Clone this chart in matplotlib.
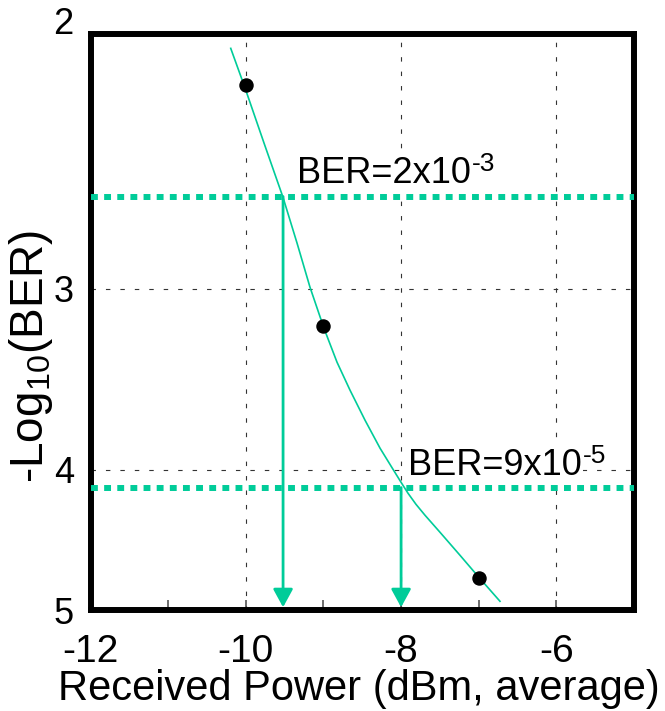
import matplotlib
matplotlib.use('Agg')
import matplotlib.pyplot as plt
from matplotlib.ticker import NullLocator, FixedLocator

plt.rcParams['font.family'] = ['Liberation Sans', 'DejaVu Sans']
plt.rcParams['mathtext.fontset'] = 'custom'
plt.rcParams['mathtext.rm'] = 'Liberation Sans'
plt.rcParams['mathtext.it'] = 'Liberation Sans'
plt.rcParams['mathtext.default'] = 'regular'

# measured points
pt_x = [-10, -9, -7]
pt_y = [2.17, 3.18, 4.75]

# fitted curve
curve_x = [-10.194, -10.010, -9.765, -9.521, -9.340, -9.173, -8.993, -8.825,
           -8.658, -8.464, -8.271, -8.104, -8.001, -7.911, -7.808, -7.692,
           -7.499, -7.241, -7.009, -6.726]
curve_y = [2.046, 2.179, 2.379, 2.593, 2.789, 2.992, 3.194, 3.371,
           3.524, 3.697, 3.865, 3.997, 4.080, 4.152, 4.226, 4.300,
           4.418, 4.583, 4.739, 4.931]

# BER threshold lines and where they cross the curve
ber_levels = [2.59, 4.115]
ber_power = [-9.52, -8.0]
ber_base = ['BER=2x10', 'BER=9x10']
ber_exp = ['-3', '-5']
label_pos = [(-9.34, 2.535), (-7.91, 4.032)]

xticks = [-12, -10, -8, -6]
xminor = [-11, -9, -7]
yticks = [2, 3, 4, 5]

green = '#00cc99'

fig = plt.figure(figsize=(6.65, 7.11), dpi=100)
ax = fig.add_axes([0.1361, 0.1420, 0.8173, 0.8101])

ax.set_yscale('log')
ax.set_xlim(-12, -5)
ax.set_ylim(5, 2)

ax.set_xticks(xticks)
ax.set_xticklabels([str(v) for v in xticks])
ax.xaxis.set_minor_locator(FixedLocator(xminor))
ax.yaxis.set_major_locator(FixedLocator(yticks))
ax.yaxis.set_minor_locator(NullLocator())
ax.set_yticklabels([str(v) for v in yticks])

ax.tick_params(axis='x', which='both', direction='in', length=7, width=1.2,
               color='#555555', labelsize=28, pad=17, top=False)
ax.tick_params(axis='y', which='both', length=0, labelsize=26, pad=12)

for s in ax.spines.values():
    s.set_linewidth(4.3)

ax.grid(True, which='major', color='#333333', lw=0.8, ls=(0, (4, 9)), zorder=0)
ax.set_axisbelow(True)

ax.plot(curve_x, curve_y, color=green, lw=1.2, zorder=3)
ax.plot(pt_x, pt_y, 'o', color='black', ms=9.4, zorder=4)

for lvl, pw, base, ex, pos in zip(ber_levels, ber_power, ber_base, ber_exp, label_pos):
    ax.axhline(lvl, color=green, lw=4.3, ls=(0, (1.15, 1.05)), zorder=5,
               solid_capstyle='butt', dash_capstyle='butt')
    ax.annotate('', xy=(pw, 5), xytext=(pw, lvl),
                arrowprops=dict(arrowstyle='-|>,head_length=0.55,head_width=0.3',
                                color=green, lw=2, mutation_scale=20,
                                shrinkA=0, shrinkB=2),
                zorder=5)
    t = ax.text(pos[0], pos[1], base, fontsize=26, va='baseline', ha='left', zorder=2,
                bbox=dict(facecolor='white', edgecolor='none', pad=1))
    ax.annotate(ex, xy=(1, 1), xycoords=t, xytext=(1, 3), textcoords='offset points',
                fontsize=19, va='top', ha='left', zorder=2,
                bbox=dict(facecolor='white', edgecolor='none', pad=1))

ax.set_xlabel('Received Power (dBm, average)', fontsize=30)
ax.xaxis.set_label_coords(0.493, -0.103)
ax.set_ylabel('-Log$_{10}$(BER)', fontsize=33)
ax.yaxis.set_label_coords(-0.066, 0.44)

fig.canvas.draw()
ax.get_yticklabels()[0].set_verticalalignment('baseline')

fig.savefig('out.png', dpi=100)
